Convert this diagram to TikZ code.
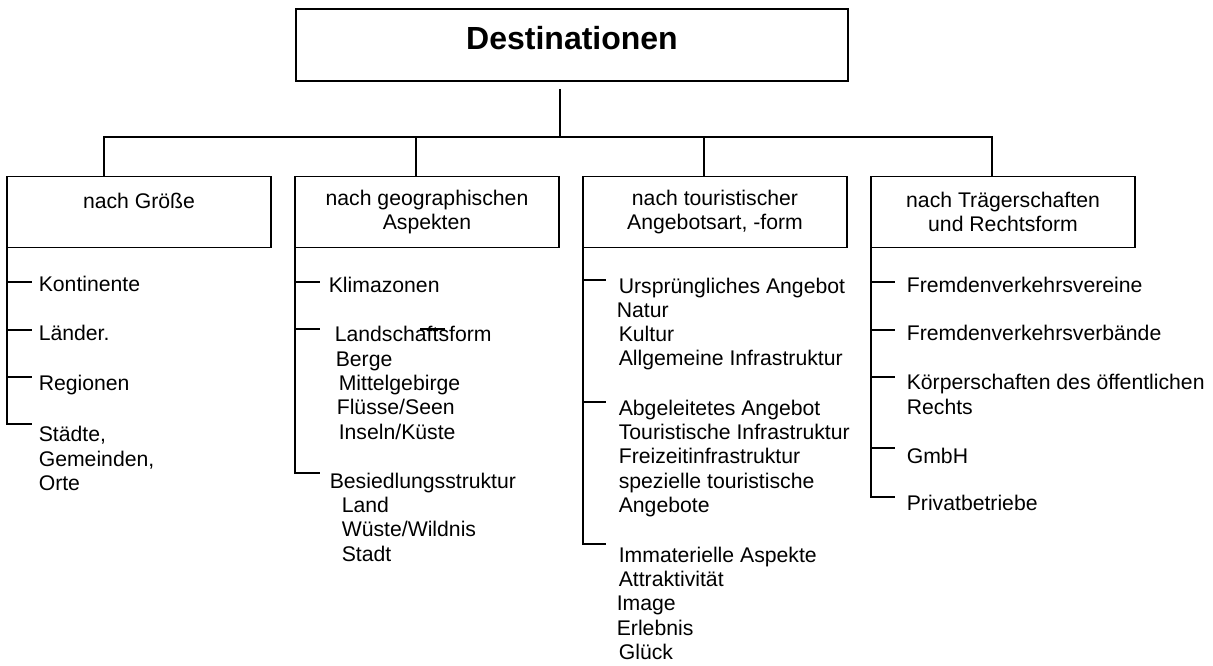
\documentclass[tikz,border=0pt]{standalone}
\usepackage{fontspec}
\setmainfont{Liberation Sans}
\usetikzlibrary{positioning}

\begin{document}
\begin{tikzpicture}[x=0.75pt, y=-0.75pt, line width=1.2pt,
    titlebox/.style={draw, minimum width=414pt, minimum height=54pt, inner sep=0pt, outer sep=0pt,
      font=\fontsize{24}{28}\selectfont\bfseries, text height=17pt, text depth=9.5pt},
    catbox/.style={draw, minimum width=198pt, minimum height=53.25pt, inner sep=0pt, outer sep=0pt,
      align=center, font=\fontsize{15.9}{17.5}\selectfont},
    entry/.style={anchor=base west, inner sep=0pt, align=left, font=\fontsize{15.9}{18.2}\selectfont}]
  \useasboundingbox (0,0) rectangle (1213,666);
  %Nodes (multi-line entries sit on the baseline of their last line)
  \node[titlebox] (dest) at (572,45) {Destinationen};
  \node[catbox] (groesse) at (139,212) {nach Größe\\\mbox{}};
  \node[catbox, right=18pt of groesse] (geo) {nach geographischen\\Aspekten};
  \node[catbox, right=18pt of geo] (angebot) {nach touristischer\\Angebotsart, -form};
  \node[catbox, right=18pt of angebot] (traeger) {nach Trägerschaften\\und Rechtsform};

  \node[entry] (kont) at (38,292) {Kontinente};
  \node[entry] (laender) at (38,340) {Länder.};
  \node[entry] (reg) at (38,390) {Regionen};
  \node[entry] (staedte) at (38,490.5) {Städte,\\Gemeinden,\\Orte};

  \node[entry] (klima) at (328,293) {Klimazonen};
  \node[entry] (landsch) at (334,439) {Landschaftsform\\\hspace*{0.75pt}Berge\\\hspace*{3pt}Mittelgebirge\\\hspace*{1.5pt}Flüsse/Seen\\\hspace*{3pt}Inseln/Küste};
  \node[entry] (besied) at (329,561) {Besiedlungsstruktur\\\hspace*{9pt}Land\\\hspace*{9pt}Wüste/Wildnis\\\hspace*{9pt}Stadt};

  \node[entry] (urspr) at (618,366) {Ursprüngliches Angebot\\\hspace*{-1.5pt}Natur\\Kultur\\Allgemeine Infrastruktur};
  \node[entry] (abgel) at (618,512.5) {Abgeleitetes Angebot\\Touristische Infrastruktur\\Freizeitinfrastruktur\\spezielle touristische\\Angebote};
  \node[entry] (immat) at (618,659.5) {Immaterielle Aspekte\\Attraktivität\\\hspace*{-1.5pt}Image\\\hspace*{-1.5pt}Erlebnis\\Glück};

  \node[entry] (vereine) at (906,293) {Fremdenverkehrsvereine};
  \node[entry] (verbaende) at (906,341) {Fremdenverkehrsverbände};
  \node[entry] (koerper) at (906,414) {Körperschaften des öffentlichen\\Rechts};
  \node[entry] (gmbh) at (906,463) {GmbH};
  \node[entry] (privat) at (906,510) {Privatbetriebe};

  %Tick ends
  \coordinate (t11) at (32,282);
  \coordinate (t12) at (32,330);
  \coordinate (t13) at (32,377);
  \coordinate (t14) at (32,424);
  \coordinate (t21) at (320,282);
  \coordinate (t22) at (320,329);
  \coordinate (t23) at (320,473);
  \coordinate (t31) at (606,280);
  \coordinate (t32) at (606,402);
  \coordinate (t33) at (606,544);
  \coordinate (t41) at (895,282);
  \coordinate (t42) at (895,330);
  \coordinate (t43) at (895,377);
  \coordinate (t44) at (895,448);
  \coordinate (t45) at (895,497);

  %Connectors
  \coordinate (drop) at (560,89);
  \coordinate (hub) at (560,137);
  \draw (drop) -- (hub);
  \draw (hub) -| ([xshift=-26.25pt]groesse.north);
  \draw (hub) -| ([xshift=-8.25pt]geo.north);
  \draw (hub) -| ([xshift=-8.25pt]angebot.north);
  \draw (hub) -| ([xshift=-8.25pt]traeger.north);

  \foreach \t in {t11,t12,t13,t14} \draw (groesse.south west) |- (\t);
  \foreach \t in {t21,t22,t23} \draw (geo.south west) |- (\t);
  \foreach \t in {t31,t32,t33} \draw (angebot.south west) |- (\t);
  \foreach \t in {t41,t42,t43,t44,t45} \draw (traeger.south west) |- (\t);

  % stray stroke over Landschaftsform
  \draw[line width=0.8pt] (420,329) -- (445,329);
\end{tikzpicture}
\end{document}
